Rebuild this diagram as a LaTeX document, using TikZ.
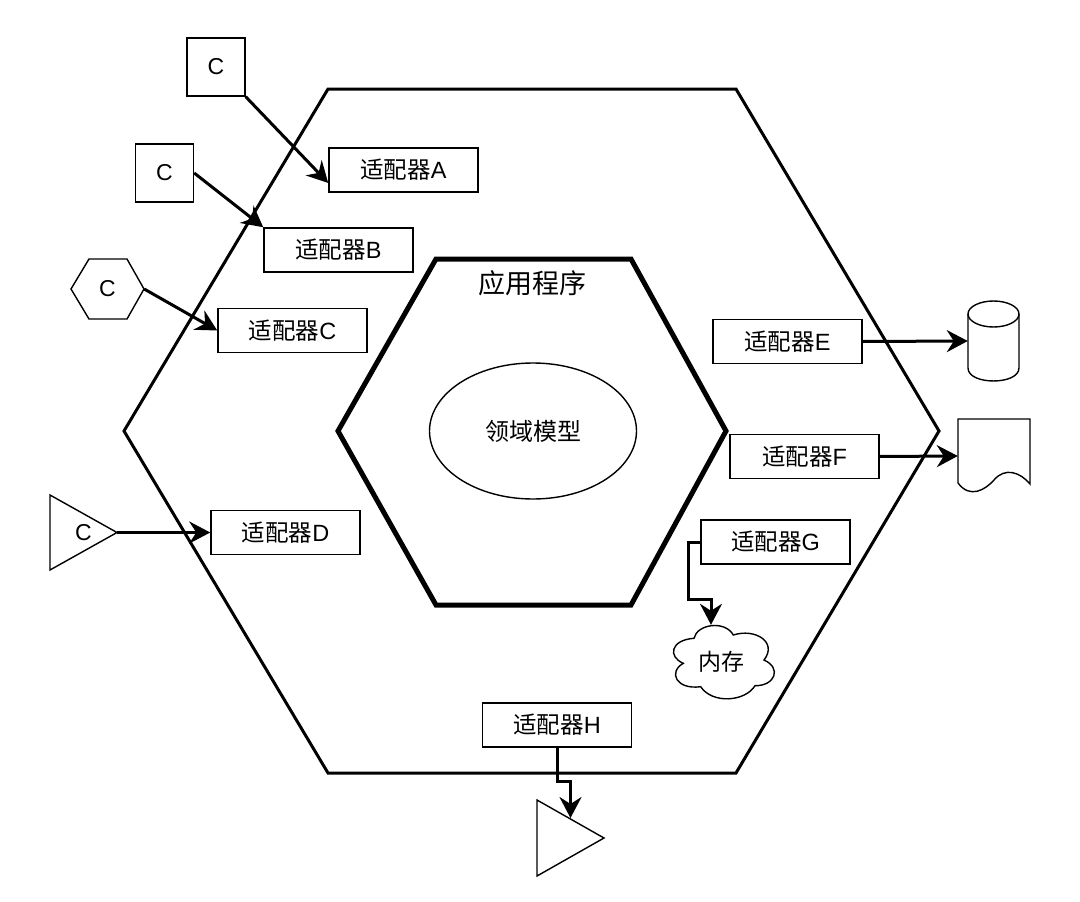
\documentclass[tikz,border=0pt]{standalone}
\usepackage{fontspec}
\setmainfont{Liberation Sans}
\newfontfamily\cjk{Noto Sans CJK SC}
\usepackage{tikz}
\usetikzlibrary{arrows.meta,shapes.geometric,calc}
\tikzset{
    adapter/.style={draw, fill=white, line width=1.5pt, minimum width=149pt, minimum height=44pt,
          inner sep=0pt, font=\fontsize{23.5}{27}\selectfont},
    clientbox/.style={draw, fill=white, line width=1.4pt, minimum size=58pt, inner sep=0pt,
          font=\fontsize{23}{27}\selectfont},
    shapebox/.style={inner sep=0pt, font=\fontsize{23}{27}\selectfont},
    outline/.style={line width=1.4pt, fill=white, line join=miter},
    link/.style={line width=3pt, -{Stealth[length=21pt,width=22pt,inset=7pt]}},
}

\begin{document}
\begin{tikzpicture}[x=1pt, y=-1pt]
    \useasboundingbox (0,0) rectangle (1080,902);

    % hexagons
    \draw[line width=3pt, line join=miter]
        (328,89) -- (736,89) -- (939,431) -- (736,773) -- (328,773) -- (124,431) -- cycle;
    \draw[line width=5pt, line join=miter]
        (436,259) -- (631,259) -- (726,431) -- (631,605) -- (436,605) -- (338,431) -- cycle;
    \node[font=\fontsize{27}{31}\selectfont\cjk] (apptitle) at (532,283) {应用程序};
    \node[draw, ellipse, line width=1.4pt, minimum width=207pt, minimum height=136pt, inner sep=0pt,
          font=\fontsize{24}{28}\selectfont\cjk] (domain) at (533,431) {领域模型};

    \node[adapter] (adapterA) at (403.5,170) {{\cjk 适配器}A};
    \node[adapter] (adapterB) at (338.5,250) {{\cjk 适配器}B};
    \node[adapter] (adapterC) at (292.5,330.5) {{\cjk 适配器}C};
    \node[adapter] (adapterD) at (285.5,532.5) {{\cjk 适配器}D};
    \node[adapter] (adapterE) at (787.5,341.5) {{\cjk 适配器}E};
    \node[adapter] (adapterF) at (804.5,456.5) {{\cjk 适配器}F};
    \node[adapter] (adapterG) at (775.5,542) {{\cjk 适配器}G};
    \node[adapter] (adapterH) at (557,725) {{\cjk 适配器}H};

    \node[clientbox] (clientA) at (216,67) {C};
    \node[clientbox] (clientB) at (164.5,173) {C};

    % clients without a ready shape
    \draw[outline] (71,289) -- (89,259) -- (127,259) -- (144,289) -- (127,319) -- (89,319) -- cycle;
    \node[shapebox, minimum width=73pt, minimum height=60pt] (clientC) at (107.5,289) {C};
    \draw[outline] (50,495) -- (117,532.5) -- (50,570) -- cycle;
    \node[shapebox, minimum width=67pt, minimum height=75pt] (clientD) at (83.5,532.5) {C};
    \draw[outline] (537,800) -- (604,838) -- (537,876) -- cycle;
    \node[shapebox, minimum width=67pt, minimum height=76pt] (sinkH) at (570.5,838) {};

    % stores
    \draw[outline] (968,314) -- (968,368) .. controls (968,385.3) and (1019,385.3) .. (1019,368) -- (1019,314);
    \draw[line width=1.4pt] (993.5,314) ellipse [x radius=25.5pt, y radius=13pt];
    \node[shapebox, minimum width=51pt, minimum height=80pt] (storeE) at (993.5,341) {};
    \draw[outline] (958,419) -- (1030,419) -- (1030,484)
        .. controls (1020,472) and (1005,467) .. (994,480)
        .. controls (985,490) and (970,499) .. (958,483) -- cycle;
    \node[shapebox, minimum width=72pt, minimum height=74pt] (storeF) at (994,456) {};
    \draw[outline] (683.3,663.3)
        .. controls (668,657) and (670,640) .. (694,638.3)
        .. controls (697,624) and (725,620) .. (733.3,635)
        .. controls (755,628) and (778,642) .. (764,660)
        .. controls (782,668) and (775,686) .. (755,685.7)
        .. controls (745,702) and (712,704) .. (700.7,686.7)
        .. controls (676,690) and (668,672) .. cycle;
    \node[shapebox, minimum width=103pt, minimum height=74pt, font=\fontsize{23}{27}\selectfont\cjk]
        (memory) at (721,662) {内存};

    % connectors
    \draw[link] (clientA.south east) -- ([yshift=-13pt]adapterA.west);
    \draw[link] (clientB.east) -- (adapterB.north west);
    \draw[link] (clientC.east) -- (adapterC.west);
    \draw[link] (clientD.east) -- (adapterD.west);
    \draw[link] (adapterE.east) -- (storeE.west);
    \draw[link] (adapterF.east) -- (storeF.west);
    \draw[link] (adapterG.west) -- ++(-12,0) -- ++(0,57) -| ([xshift=-10pt]memory.north);
    \draw[link] (adapterH.south) -- ++(0,34) -- ++(13.5,0) -- (sinkH.north |- 0,818);
\end{tikzpicture}
\end{document}
